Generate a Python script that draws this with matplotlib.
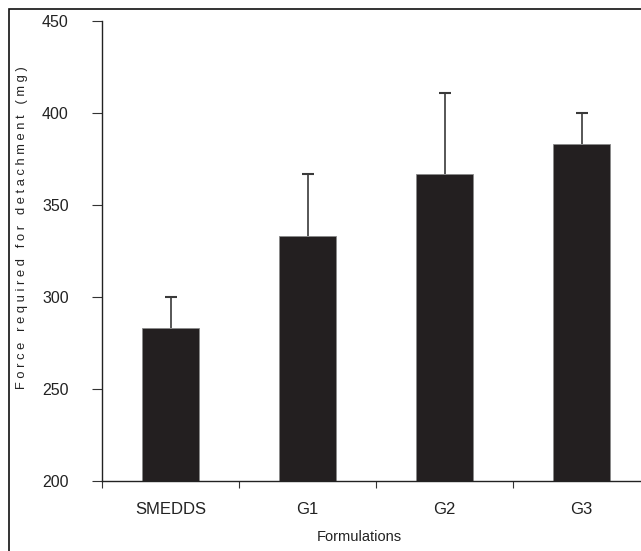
import matplotlib
matplotlib.use("Agg")
import matplotlib.pyplot as plt
from matplotlib.patches import Rectangle

categories = ["SMEDDS", "G1", "G2", "G3"]
means = [283.3, 333.3, 366.7, 383.3]
errors = [16.7, 33.3, 44.0, 16.5]
yticks = [200, 250, 300, 350, 400, 450]

plt.rcParams['font.family'] = ['Liberation Sans', 'DejaVu Sans']

W, H = 641, 551
fig = plt.figure(figsize=(W / 100, H / 100), dpi=100)
ax = fig.add_axes([102 / W, 1 - 481 / H, 1 - 102 / W, (481 - 21) / H])

x = list(range(len(categories)))
ax.bar(x, means, width=0.416, color='#231f20', edgecolor='#8a8a8a', linewidth=0.6, zorder=2)
eb = ax.errorbar(x, means, yerr=[[0] * len(errors), errors], fmt='none', ecolor='#3a3a3a',
                 elinewidth=1.2, capsize=4, capthick=1.5, zorder=1)
caps = eb[1]
if len(caps) >= 2:
    caps[0].set_visible(False)

ax.set_ylim(200, 450)
ax.set_xlim(-0.5, -0.5 + (W - 102) / 137)
ax.set_yticks(yticks)
ax.set_yticklabels([str(v) for v in yticks], fontsize=11.5, color='#222222')
ax.set_xticks(x)
ax.set_xticklabels(categories, fontsize=12, color='#222222')
ax.set_xticks([-0.5, 0.5, 1.5, 2.5], minor=True)
ax.tick_params(axis='x', which='major', length=0, pad=15)
ax.tick_params(axis='x', which='minor', length=5, width=0.8, direction='out', color='#333333')
ax.tick_params(axis='y', length=7, width=0.8, direction='out', pad=17, color='#333333')

for s in ['top', 'right']:
    ax.spines[s].set_visible(False)
for s in ['left', 'bottom']:
    ax.spines[s].set_linewidth(1.0)
    ax.spines[s].set_color('#222222')

fig.text(359 / W, 1 - 537 / H, "Formulations", fontsize=10.5, color='#222222',
         ha='center', va='center')
ylabel = "Force required for detachment (mg)"
spaced = " ".join(ylabel)
fig.text(22 / W, 1 - 228 / H, spaced, rotation=90, fontsize=9.3, color='#222222',
         ha='center', va='center')

fig.patches.append(Rectangle((9 / W, -0.1), 1.2, 1.1 - 9 / H, transform=fig.transFigure,
                             fill=False, edgecolor='#111111', linewidth=1.2))

fig.savefig("out.png", dpi=100)
